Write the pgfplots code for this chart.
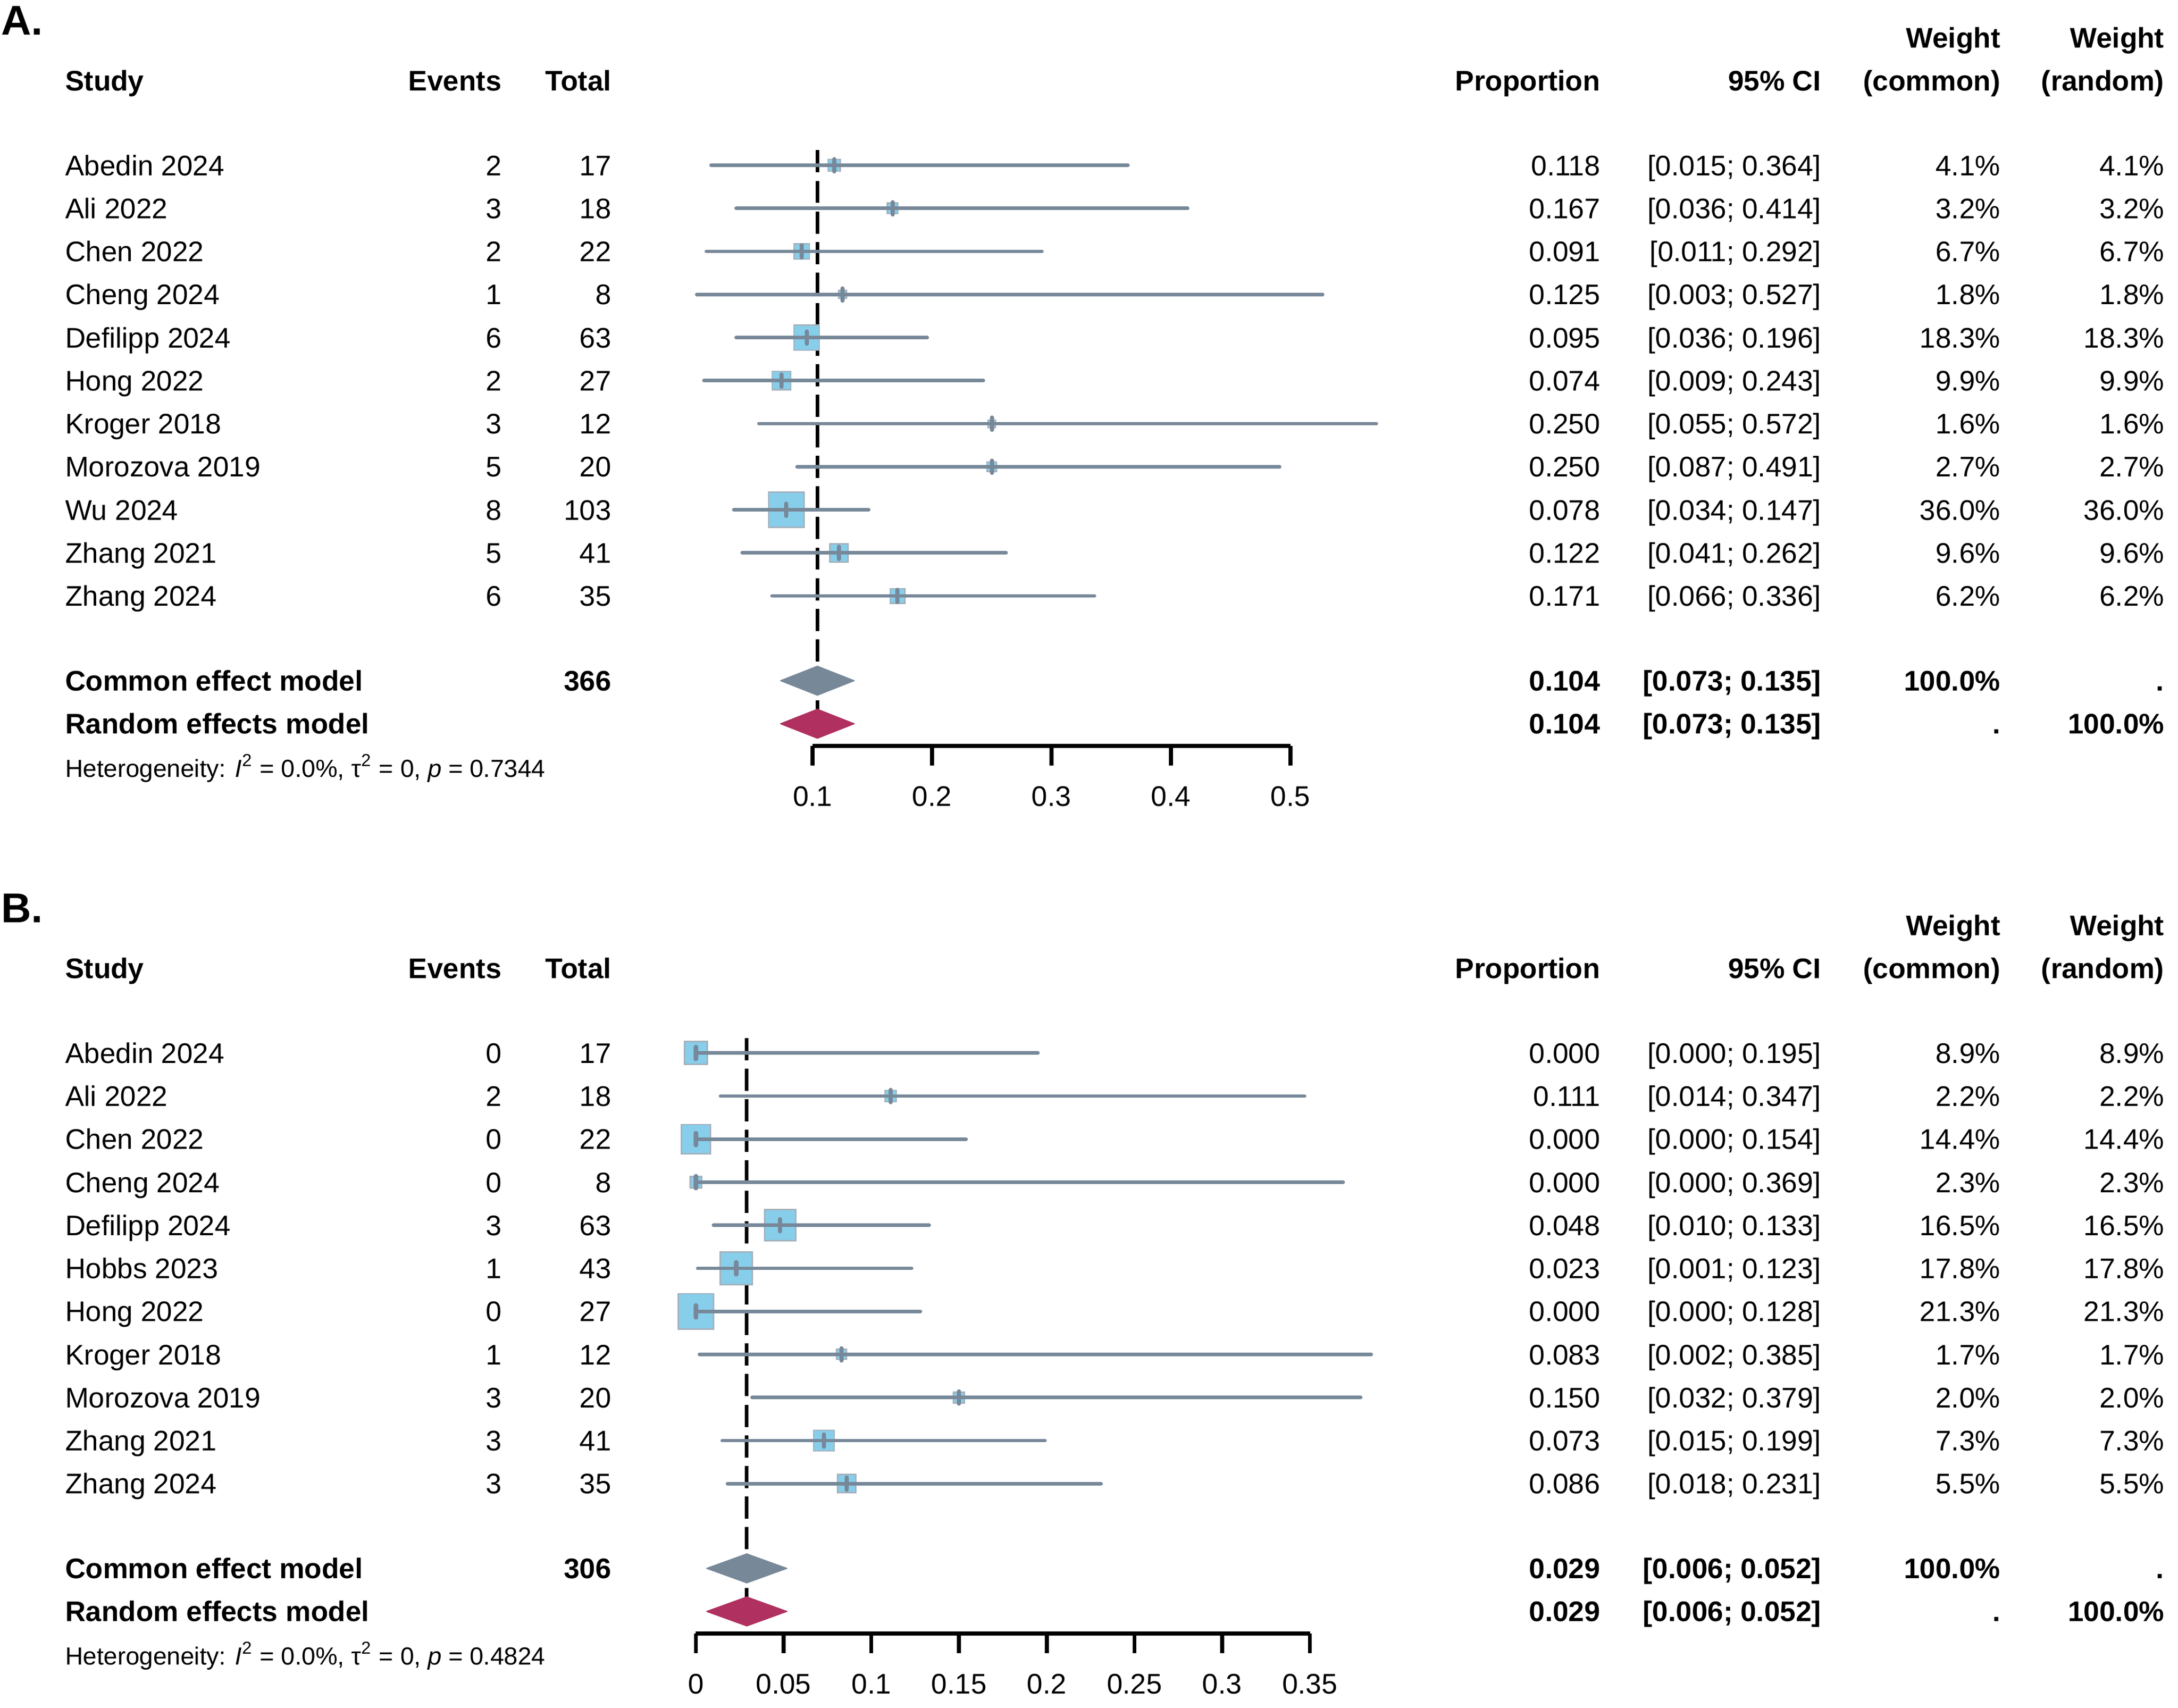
\documentclass[border=0pt]{standalone}
\usepackage{pgfplots}
\pgfplotsset{compat=1.18}
\usepackage{pgfplotstable}
\usepackage{fontspec}
\setmainfont{Liberation Sans}
\definecolor{slate}{HTML}{778899}
\definecolor{sqfill}{HTML}{87CEEB}
\definecolor{sqdraw}{HTML}{A3B1BC}
\definecolor{maroonR}{HTML}{B03060}

% y = -row index; est = proportion; lo/hi = 95% CI; w = weight (%)
\pgfplotstableread{
y est lo hi w
0 0.118 0.015 0.364 4.1
-1 0.167 0.036 0.414 3.2
-2 0.091 0.011 0.292 6.7
-3 0.125 0.003 0.527 1.8
-4 0.095 0.036 0.196 18.3
-5 0.074 0.009 0.243 9.9
-6 0.250 0.055 0.572 1.6
-7 0.250 0.087 0.491 2.7
-8 0.078 0.034 0.147 36.0
-9 0.122 0.041 0.262 9.6
-10 0.171 0.066 0.336 6.2
}\dataA

\pgfplotstableread{
y est lo hi w
0 0.000 0.000 0.195 8.9
-1 0.111 0.014 0.347 2.2
-2 0.000 0.000 0.154 14.4
-3 0.000 0.000 0.369 2.3
-4 0.048 0.010 0.133 16.5
-5 0.023 0.001 0.123 17.8
-6 0.000 0.000 0.128 21.3
-7 0.083 0.002 0.385 1.7
-8 0.150 0.032 0.379 2.0
-9 0.073 0.015 0.199 7.3
-10 0.086 0.018 0.231 5.5
}\dataB

\pgfplotsset{
  forest/.style={
    y=15.5pt, ymin=-13.484, ymax=0.5,
    clip=false, clip marker paths=true,
    axis x line*=bottom, axis y line=none,
    x axis line style={line width=1.5pt},
    tick align=outside, major tick length=7pt,
    every tick/.style={black, line width=1.4pt},
    xticklabel style={anchor=base, yshift=-14.65pt, inner sep=0pt, font=\fontsize{10.2}{12}\selectfont},
    ytick=\empty,
  }
}

\newcommand{\forestplots}[2]{%
  \addplot[only marks, mark=square*, scatter,
    scatter/use mapped color={draw=sqdraw, fill=sqfill},
    mark options={line width=0.5pt},
    visualization depends on={6.375*sqrt(\thisrow{w}/#2) \as \ms},
    scatter/@pre marker code/.append style={/tikz/mark size=\ms}]
    table[x=est, y=y] {#1};
  \addplot[only marks, mark=*, mark size=0pt, mark options={draw=none, fill=none},
    error bars/.cd, x dir=both, x explicit, error mark=none,
    error bar style={draw=slate, line width=1.25pt, line cap=round}]
    table[x=est, y=y, x error plus expr=\thisrow{hi}-\thisrow{est},
          x error minus expr=\thisrow{est}-\thisrow{lo}] {#1};
  \addplot[color=slate, only marks, mark=|, mark size=2.2pt, line width=1.5pt,
    mark options={draw=slate, line width=1.5pt, line cap=round}]
    table[x=est, y=y] {#1};
}

\newcommand{\R}[8]{%
  \node[anchor=base west] at (47,#1+7.3) {#2};
  \node[anchor=base east] at (361,#1+7.3) {#3};
  \node[anchor=base east] at (440,#1+7.3) {#4};
  \node[anchor=base east] at (1152,#1+7.3) {#5};
  \node[anchor=base east] at (1311,#1+7.3) {#6};
  \node[anchor=base east] at (1440,#1+7.3) {#7};
  \node[anchor=base east] at (1558,#1+7.3) {#8};
}
\newcommand{\Header}[1]{%
  \node[anchor=base west] at (47,#1+7.3) {\bfseries Study};
  \node[anchor=base east] at (361,#1+7.3) {\bfseries Events};
  \node[anchor=base east] at (440,#1+7.3) {\bfseries Total};
  \node[anchor=base east] at (1152,#1+7.3) {\bfseries Proportion};
  \node[anchor=base east] at (1311,#1+7.3) {\bfseries 95\% CI};
  \node[anchor=base east] at (1440,#1+7.3) {\bfseries (common)};
  \node[anchor=base east] at (1558,#1+7.3) {\bfseries (random)};
  \node[anchor=base east] at (1440,#1-31+7.3) {\bfseries Weight};
  \node[anchor=base east] at (1558,#1-31+7.3) {\bfseries Weight};
}

\begin{document}
\begin{tikzpicture}[font=\fontsize{10.2}{12}\selectfont]

% ---------------- Panel A ----------------
\begin{axis}[forest, x=430pt, xmin=0.1, xmax=0.5,
  at={(292.5pt,-268.5pt)}, anchor=south west,
  xtick={0.1,0.2,0.3,0.4,0.5}, xticklabels={0.1,0.2,0.3,0.4,0.5}]
  \addplot[black, line width=1.25pt, dash pattern=on 8pt off 3pt] coordinates {(0.104,0.35) (0.104,-12.968)};
  \forestplots{\dataA}{36}
  \addplot[fill=slate, draw=slate, line width=0.3pt, line join=round] coordinates {(0.073,-11.968) (0.104,-11.629) (0.135,-11.968) (0.104,-12.307) (0.073,-11.968)};
  \addplot[fill=maroonR, draw=maroonR, line width=0.3pt, line join=round] coordinates {(0.073,-12.968) (0.104,-12.629) (0.135,-12.968) (0.104,-13.307) (0.073,-12.968)};
\end{axis}

% ---------------- Panel B ----------------
\begin{axis}[forest, x=631.45pt, xmin=0, xmax=0.35,
  at={(250.5pt,-588pt)}, anchor=south west,
  xtick={0,0.05,0.1,0.15,0.2,0.25,0.3,0.35}, xticklabels={0,0.05,0.1,0.15,0.2,0.25,0.3,0.35}]
  \addplot[black, line width=1.25pt, dash pattern=on 8pt off 3pt] coordinates {(0.029,0.35) (0.029,-12.968)};
  \forestplots{\dataB}{21.3}
  \addplot[fill=slate, draw=slate, line width=0.3pt, line join=round] coordinates {(0.006,-11.968) (0.029,-11.629) (0.052,-11.968) (0.029,-12.307) (0.006,-11.968)};
  \addplot[fill=maroonR, draw=maroonR, line width=0.3pt, line join=round] coordinates {(0.006,-12.968) (0.029,-12.629) (0.052,-12.968) (0.029,-13.307) (0.006,-12.968)};
\end{axis}

\begin{scope}[x=0.5pt, y=-0.5pt, every node/.style={inner sep=0pt, outer sep=0pt}]
  % Panel A text
  \node[anchor=base west, font=\fontsize{15}{18}\selectfont\bfseries] at (1,25) {A.};
  \Header{58}
  \R{119}{Abedin 2024}{2}{17}{0.118}{[0.015; 0.364]}{4.1\%}{4.1\%}
  \R{150}{Ali 2022}{3}{18}{0.167}{[0.036; 0.414]}{3.2\%}{3.2\%}
  \R{181}{Chen 2022}{2}{22}{0.091}{[0.011; 0.292]}{6.7\%}{6.7\%}
  \R{212}{Cheng 2024}{1}{8}{0.125}{[0.003; 0.527]}{1.8\%}{1.8\%}
  \R{243}{Defilipp 2024}{6}{63}{0.095}{[0.036; 0.196]}{18.3\%}{18.3\%}
  \R{274}{Hong 2022}{2}{27}{0.074}{[0.009; 0.243]}{9.9\%}{9.9\%}
  \R{305}{Kroger 2018}{3}{12}{0.250}{[0.055; 0.572]}{1.6\%}{1.6\%}
  \R{336}{Morozova 2019}{5}{20}{0.250}{[0.087; 0.491]}{2.7\%}{2.7\%}
  \R{367}{Wu 2024}{8}{103}{0.078}{[0.034; 0.147]}{36.0\%}{36.0\%}
  \R{398}{Zhang 2021}{5}{41}{0.122}{[0.041; 0.262]}{9.6\%}{9.6\%}
  \R{429}{Zhang 2024}{6}{35}{0.171}{[0.066; 0.336]}{6.2\%}{6.2\%}
  \R{490}{\bfseries Common effect model}{}{\bfseries 366}{\bfseries 0.104}{\bfseries [0.073; 0.135]}{\bfseries 100.0\%}{\bfseries .}
  \R{521}{\bfseries Random effects model}{}{}{\bfseries 0.104}{\bfseries [0.073; 0.135]}{\bfseries .}{\bfseries 100.0\%}
  \node[anchor=base west, font=\fontsize{8.9}{11}\selectfont] at (47,559.4) {Heterogeneity: \textit{I}\textsuperscript{2} = 0.0\%, τ\textsuperscript{2} = 0, \textit{p} = 0.7344};

  % Panel B text
  \node[anchor=base west, font=\fontsize{15}{18}\selectfont\bfseries] at (1,664) {B.};
  \Header{697}
  \R{758}{Abedin 2024}{0}{17}{0.000}{[0.000; 0.195]}{8.9\%}{8.9\%}
  \R{789}{Ali 2022}{2}{18}{0.111}{[0.014; 0.347]}{2.2\%}{2.2\%}
  \R{820}{Chen 2022}{0}{22}{0.000}{[0.000; 0.154]}{14.4\%}{14.4\%}
  \R{851}{Cheng 2024}{0}{8}{0.000}{[0.000; 0.369]}{2.3\%}{2.3\%}
  \R{882}{Defilipp 2024}{3}{63}{0.048}{[0.010; 0.133]}{16.5\%}{16.5\%}
  \R{913}{Hobbs 2023}{1}{43}{0.023}{[0.001; 0.123]}{17.8\%}{17.8\%}
  \R{944}{Hong 2022}{0}{27}{0.000}{[0.000; 0.128]}{21.3\%}{21.3\%}
  \R{975}{Kroger 2018}{1}{12}{0.083}{[0.002; 0.385]}{1.7\%}{1.7\%}
  \R{1006}{Morozova 2019}{3}{20}{0.150}{[0.032; 0.379]}{2.0\%}{2.0\%}
  \R{1037}{Zhang 2021}{3}{41}{0.073}{[0.015; 0.199]}{7.3\%}{7.3\%}
  \R{1068}{Zhang 2024}{3}{35}{0.086}{[0.018; 0.231]}{5.5\%}{5.5\%}
  \R{1129}{\bfseries Common effect model}{}{\bfseries 306}{\bfseries 0.029}{\bfseries [0.006; 0.052]}{\bfseries 100.0\%}{\bfseries .}
  \R{1160}{\bfseries Random effects model}{}{}{\bfseries 0.029}{\bfseries [0.006; 0.052]}{\bfseries .}{\bfseries 100.0\%}
  \node[anchor=base west, font=\fontsize{8.9}{11}\selectfont] at (47,1198.4) {Heterogeneity: \textit{I}\textsuperscript{2} = 0.0\%, τ\textsuperscript{2} = 0, \textit{p} = 0.4824};
\end{scope}

\pgfresetboundingbox
\path[use as bounding box] (0pt,0pt) rectangle (784pt,-614.75pt);
\end{tikzpicture}
\end{document}
